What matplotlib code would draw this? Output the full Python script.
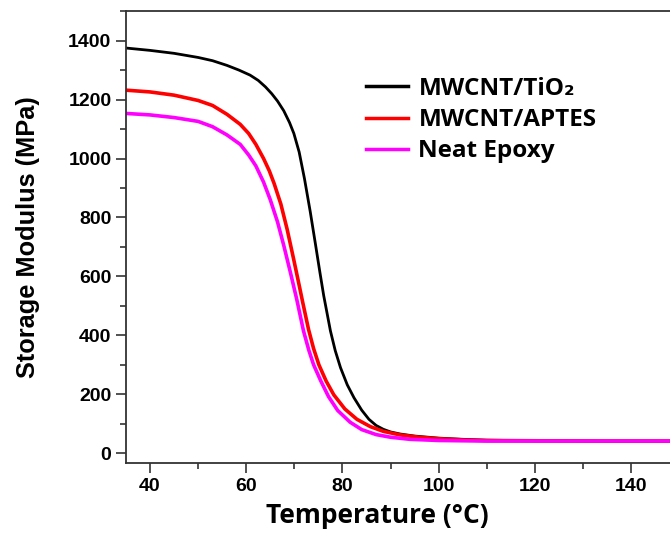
import numpy as np
import matplotlib.pyplot as plt
from matplotlib.ticker import MultipleLocator

# values (temperature in deg C, modulus in MPa)
t_tio2 = [35, 40, 45, 50, 53, 56, 58.5, 60.8, 62.5, 64, 65.3, 66.5, 67.8, 69,
          69.9, 71, 72.1, 73.3, 74.4, 75.3, 76.1, 77.5, 78.5, 79.6, 81, 82.4,
          84, 85.5, 87, 88.5, 90, 92, 95, 100, 105, 110, 120, 135, 148.5]
e_tio2 = [1375, 1367, 1357, 1343, 1332, 1316, 1300, 1283, 1265, 1243, 1220,
          1195, 1162, 1122, 1085, 1022, 932, 820, 708, 615, 535, 415, 348,
          290, 232, 188, 146, 115, 94, 81, 72, 65, 58, 51, 47, 44, 42, 41, 41]

t_aptes = [35, 40, 45, 50, 53, 56, 58.75, 60.5, 62, 63.6, 64.8, 65.8, 67.2,
           68.5, 69.9, 71, 71.7, 72.95, 74, 75.1, 76.6, 78.2, 80.5, 83, 85.8,
           88.5, 92, 96, 100, 105, 110, 120, 135, 148.5]
e_aptes = [1232, 1226, 1215, 1197, 1180, 1150, 1116, 1085, 1048, 1000, 958,
           915, 845, 760, 655, 570, 515, 420, 355, 300, 245, 198, 150, 115,
           90, 74, 62, 54, 49, 45, 43, 42, 41, 41]

t_neat = [35, 40, 45, 50, 53, 56, 58.75, 60.5, 62, 63.6, 65, 66.5, 67.8, 69.2,
          70.5, 71.9, 73, 74, 75.5, 77.1, 79, 81.6, 84, 87, 90, 94, 100, 110,
          120, 148.5]
e_neat = [1153, 1148, 1139, 1126, 1108, 1080, 1048, 1012, 975, 920, 860, 785,
          705, 612, 522, 415, 350, 300, 245, 192, 145, 105, 80, 63, 54, 47,
          43, 41, 41, 41]

labels = ['MWCNT/TiO\u2082', 'MWCNT/APTES', 'Neat Epoxy']

fig = plt.figure(figsize=(6.7, 5.33), dpi=100)
ax = fig.add_axes([0.188, 0.131, 0.815, 0.848])

ax.plot(t_tio2, e_tio2, color='black', lw=2.0, label=labels[0])
ax.plot(t_aptes, e_aptes, color='#ff0000', lw=2.6, label=labels[1])
ax.plot(t_neat, e_neat, color='#ff00ff', lw=2.6, label=labels[2])

ax.set_xlim(35, 148.5)
ax.set_ylim(-34, 1500)
ax.xaxis.set_major_locator(MultipleLocator(20))
ax.xaxis.set_minor_locator(MultipleLocator(10))
ax.yaxis.set_major_locator(MultipleLocator(200))
ax.yaxis.set_minor_locator(MultipleLocator(100))

for s in ax.spines.values():
    s.set_linewidth(1.3)
    s.set_color('#333333')
ax.spines['right'].set_visible(False)

ax.tick_params(which='major', length=7, width=1.2, color='#333333', labelsize=14)
ax.tick_params(which='minor', length=4, width=1.2, color='#333333')
for t in ax.get_xticklabels() + ax.get_yticklabels():
    t.set_fontweight('bold')
    t.set_family(['Liberation Sans', 'DejaVu Sans'])

ax.set_ylabel('Storage Modulus (MPa)', fontsize=18.3, fontweight='bold',
              family=['Liberation Sans', 'DejaVu Sans'])
ax.yaxis.set_label_coords(-0.157, 0.5)
ax.set_xlabel('Temperature (\u00b0C)', fontsize=19, fontweight='bold',
              family=['Open Sans', 'DejaVu Sans'])
ax.xaxis.set_label_coords(0.46, -0.085)

leg = ax.legend(loc='upper left', bbox_to_anchor=(0.44, 0.855), frameon=False,
                handlelength=1.7, handletextpad=0.45, labelspacing=0.3,
                borderpad=0, borderaxespad=0,
                prop={'family': ['Open Sans', 'DejaVu Sans'], 'weight': 'bold', 'size': 17.5})
for ln in leg.get_lines():
    ln.set_linewidth(2.5)

fig.savefig('out.png', dpi=100, facecolor='white')
